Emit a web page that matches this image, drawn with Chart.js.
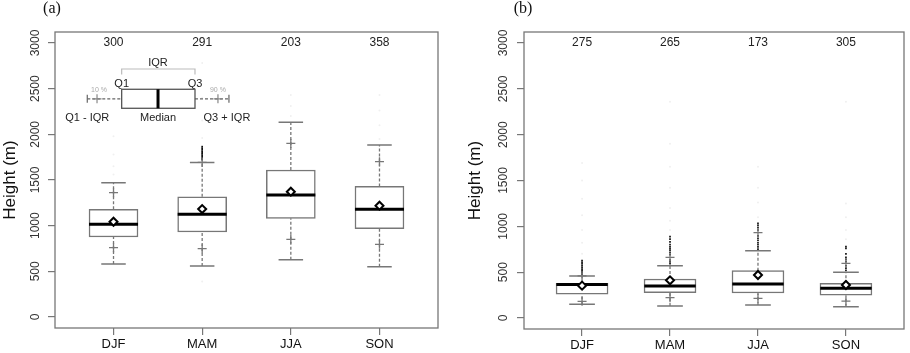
<!DOCTYPE html>
<html><head><meta charset="utf-8">
<script src="https://cdn.jsdelivr.net/npm/chart.js@4"></script>
<style>
html,body{margin:0;padding:0;background:#fff;width:910px;height:353px;overflow:hidden}
.p{position:absolute;top:0;width:455px;height:353px}
canvas{display:block}
</style></head><body>
<div class="p" style="left:0"><canvas id="ca" width="455" height="353"></canvas></div>
<div class="p" style="left:455px"><canvas id="cb" width="455" height="353"></canvas></div>
<script>
const seasons = ['DJF', 'MAM', 'JJA', 'SON'];
const yTicks = [0, 500, 1000, 1500, 2000, 2500, 3000];

// Panel (a)
const aCounts = [300, 291, 203, 358];
const aLowWhisker = [580, 558, 627, 551];
const aP10 = [759, 748, 851, 796];
const aQ1 = [876, 931, 1080, 967];
const aMedian = [1015, 1124, 1336, 1179];
const aMean = [1043, 1182, 1372, 1219];
const aQ3 = [1179, 1317, 1609, 1430];
const aP90 = [1361, 1692, 1900, 1701];
const aUpWhisker = [1470, 1692, 2132, 1883];
const aOutliers = [[], [1722, 1738, 1755, 1770, 1786, 1800, 1815, 1832, 1848, 1865], [], []];
const aFaint = [[1560, 1650, 1780, 1980], [390, 1960, 2150, 2400, 2780], [2200, 2310, 2430], [1950, 2100, 2260, 2430]];

// Panel (b)
const bCounts = [275, 265, 173, 305];
const bLowWhisker = [149, 131, 142, 124];
const bP10 = [182, 222, 215, 185];
const bQ1 = [259, 276, 273, 248];
const bMedian = [365, 349, 371, 324];
const bMean = [353, 411, 469, 360];
const bQ3 = [378, 425, 516, 378];
const bP90 = [460, 662, 931, 597];
const bUpWhisker = [458, 571, 734, 498];
const bOutliers = [
  [478, 497, 515, 534, 552, 570, 590, 608, 625],
  [592, 612, 633, 690, 712, 735, 755, 775, 800, 830, 860, 887],
  [752, 775, 800, 822, 848, 870, 895, 960, 985, 1010, 1033],
  [520, 545, 570, 615, 640, 662, 700, 760, 778]
];
const bFaint = [[700, 820, 960, 1120, 1300, 1500, 1690], [960, 1060, 1200, 1420, 1650, 1900, 2360], [1100, 1260, 1420, 1650], [860, 960, 1100, 1250, 2360]];

const FONT = "'Liberation Sans', Arial, Helvetica, sans-serif";

function panelPlugin(cfg, counts) {
  return {
    id: 'panelExtras' + cfg.tag,
    beforeDatasetsDraw(chart) {
      const a = chart.chartArea, ctx = chart.ctx;
      ctx.save();
      ctx.strokeStyle = '#777';
      ctx.lineWidth = 1.3;
      ctx.strokeRect(a.left, a.top, a.right - a.left, a.bottom - a.top);
      ctx.restore();
    },
    afterDraw(chart) {
      const ctx = chart.ctx, xs = chart.scales.x, ys = chart.scales.y;
      ctx.save();
      ctx.fillStyle = '#111';
      ctx.font = "16px 'Liberation Serif', 'Times New Roman', serif";
      ctx.textAlign = 'center';
      ctx.textBaseline = 'middle';
      ctx.fillText(cfg.tag, cfg.tagX, 9);
      ctx.font = '12px ' + FONT;
      ctx.fillStyle = '#222';
      counts.forEach((c, i) => ctx.fillText(String(c), xs.getPixelForValue(i + 1), ys.getPixelForValue(3000)));
      if (cfg.inset) drawInset(ctx, xs, ys);
      ctx.restore();
    }
  };
}

const key = {boxL: 1.092, boxR: 1.919, boxLo: 2285, boxHi: 2493, mid: 2389, med: 1.502,
  endL: 0.704, endR: 2.302, p10: 0.814, p90: 2.178, iqrY: 2715, iqrTick: 2655,
  qLab: 2551, pLab: 2485, lowLab: 2180, iqrLab: 2785};

function drawInset(ctx, xs, ys) {
  const X = v => xs.getPixelForValue(v), Y = v => ys.getPixelForValue(v);
  ctx.strokeStyle = '#bbb'; ctx.lineWidth = 1.2; ctx.setLineDash([]);
  ctx.beginPath();
  ctx.moveTo(X(key.boxL), Y(key.iqrTick)); ctx.lineTo(X(key.boxL), Y(key.iqrY));
  ctx.lineTo(X(key.boxR), Y(key.iqrY)); ctx.lineTo(X(key.boxR), Y(key.iqrTick));
  ctx.stroke();
  ctx.strokeStyle = '#666'; ctx.lineWidth = 1.2; ctx.setLineDash([3, 2]);
  ctx.beginPath();
  ctx.moveTo(X(key.endL), Y(key.mid)); ctx.lineTo(X(key.boxL), Y(key.mid));
  ctx.moveTo(X(key.boxR), Y(key.mid)); ctx.lineTo(X(key.endR), Y(key.mid));
  ctx.stroke();
  ctx.setLineDash([]);
  ctx.beginPath();
  [key.endL, key.endR].forEach(x => { ctx.moveTo(X(x), Y(key.mid) - 4); ctx.lineTo(X(x), Y(key.mid) + 4); });
  ctx.stroke();
  ctx.strokeStyle = '#888';
  ctx.beginPath();
  [key.p10, key.p90].forEach(x => {
    ctx.moveTo(X(x) - 4.5, Y(key.mid)); ctx.lineTo(X(x) + 4.5, Y(key.mid));
    ctx.moveTo(X(x), Y(key.mid) - 4.5); ctx.lineTo(X(x), Y(key.mid) + 4.5);
  });
  ctx.stroke();
  ctx.fillStyle = '#fff'; ctx.strokeStyle = '#555'; ctx.lineWidth = 1.3;
  ctx.fillRect(X(key.boxL), Y(key.boxHi), X(key.boxR) - X(key.boxL), Y(key.boxLo) - Y(key.boxHi));
  ctx.strokeRect(X(key.boxL), Y(key.boxHi), X(key.boxR) - X(key.boxL), Y(key.boxLo) - Y(key.boxHi));
  ctx.strokeStyle = '#000'; ctx.lineWidth = 3;
  ctx.beginPath(); ctx.moveTo(X(key.med), Y(key.boxHi)); ctx.lineTo(X(key.med), Y(key.boxLo)); ctx.stroke();
  ctx.textAlign = 'center'; ctx.textBaseline = 'middle';
  ctx.fillStyle = '#222'; ctx.font = '11px ' + FONT;
  ctx.fillText('IQR', X(key.med), Y(key.iqrLab));
  ctx.fillText('Q1', X(key.boxL), Y(key.qLab));
  ctx.fillText('Q3', X(key.boxR), Y(key.qLab));
  ctx.fillText('Q1 - IQR', X(key.endL), Y(key.lowLab));
  ctx.fillText('Median', X(key.med), Y(key.lowLab));
  ctx.fillText('Q3 + IQR', X(key.endR) - 2, Y(key.lowLab));
  ctx.fillStyle = '#aaa'; ctx.font = '7px ' + FONT;
  ctx.fillText('10 %', X(key.p10) + 2, Y(key.pLab));
  ctx.fillText('90 %', X(key.p90), Y(key.pLab));
}

function makePanel(id, d, cfg) {
  const halfBox = cfg.boxW / 2, halfCap = cfg.boxW / 4;
  const whisk = [], caps = [], meds = [], crosses = [], means = [], outs = [], faint = [];
  d.q1.forEach((_, i) => {
    const x = i + 1;
    whisk.push({x, y: d.lw[i]}, {x, y: d.q1[i]}, {x, y: null}, {x, y: d.q3[i]}, {x, y: d.uw[i]}, {x, y: null});
    caps.push({x: x - halfCap, y: d.lw[i]}, {x: x + halfCap, y: d.lw[i]}, {x, y: null},
              {x: x - halfCap, y: d.uw[i]}, {x: x + halfCap, y: d.uw[i]}, {x, y: null});
    meds.push({x: x - halfBox, y: d.med[i]}, {x: x + halfBox, y: d.med[i]}, {x, y: null});
    crosses.push({x, y: d.p10[i]}, {x, y: d.p90[i]});
    means.push({x, y: d.mean[i]});
    d.out[i].forEach(v => outs.push({x, y: v}));
    d.faint[i].forEach(v => faint.push({x, y: v}));
  });
  const pt = {pointRadius: 0, pointHoverRadius: 0, fill: false, spanGaps: false, tension: 0};
  new Chart(document.getElementById(id), {
    type: 'scatter',
    data: {datasets: [
      {type: 'scatter', data: means, order: 0, pointStyle: 'rectRot', pointRadius: 4, pointBorderWidth: 2,
       borderColor: '#000', backgroundColor: '#fff', pointBorderColor: '#000', pointBackgroundColor: '#fff'},
      Object.assign({type: 'line', data: meds, order: 1, borderColor: '#000', borderWidth: 3, borderCapStyle: 'butt'}, pt),
      {type: 'scatter', data: crosses, order: 2, pointStyle: 'cross', pointRadius: 4.5, pointBorderWidth: 1.3,
       borderColor: '#777', pointBorderColor: '#777'},
      {type: 'bar', data: d.q1.map((q, i) => ({x: i + 1, y: [q, d.q3[i]]})), order: 3, barThickness: cfg.boxPx,
       backgroundColor: '#fff', borderColor: '#777', borderWidth: 1.5, borderSkipped: false, grouped: false},
      Object.assign({type: 'line', data: caps, order: 4, borderColor: '#777', borderWidth: 1.5}, pt),
      Object.assign({type: 'line', data: whisk, order: 5, borderColor: '#777', borderWidth: 1.3, borderDash: [3, 2]}, pt),
      {type: 'scatter', data: outs, order: 6, pointStyle: 'rect', pointRadius: 1.2, pointBorderWidth: 0,
       backgroundColor: '#111', pointBackgroundColor: '#111'},
      {type: 'scatter', data: faint, order: 7, pointStyle: 'circle', pointRadius: 1, pointBorderWidth: 0,
       backgroundColor: '#f0f0f0', pointBackgroundColor: '#f0f0f0'}
    ]},
    options: {
      responsive: false, animation: false, devicePixelRatio: 1,
      layout: {padding: {top: 32, right: cfg.rightPad, bottom: 0, left: 0}},
      plugins: {legend: {display: false}, tooltip: {enabled: false}, title: {display: false}},
      events: [],
      scales: {
        x: {
          type: 'linear', min: 0.34, max: 4.66, offset: false,
          afterBuildTicks: s => { s.ticks = seasons.map((_, i) => ({value: i + 1})); },
          afterFit: s => { s.height = cfg.xH; },
          grid: {drawOnChartArea: false, drawTicks: true, tickLength: 7, color: '#777', lineWidth: 1.2, offset: false},
          border: {display: false},
          ticks: {autoSkip: false, maxRotation: 0, minRotation: 0, padding: 2, color: '#111',
                  font: {family: FONT, size: 13}, callback: v => seasons[Math.round(v) - 1]}
        },
        y: {
          type: 'linear', min: -120, max: 3120,
          afterBuildTicks: s => { s.ticks = yTicks.map(v => ({value: v})); },
          afterFit: s => { s.width = cfg.yW; },
          grid: {drawOnChartArea: false, drawTicks: true, tickLength: 7, color: '#777', lineWidth: 1.2},
          border: {display: false},
          ticks: {minRotation: 90, maxRotation: 90, crossAlign: 'center', padding: cfg.tickPad, color: '#333',
                  font: {family: FONT, size: 12}, callback: v => String(v)},
          title: {display: true, text: 'Height (m)', color: '#111', font: {family: FONT, size: 17},
                  padding: {top: cfg.titlePad, bottom: 0}}
        }
      }
    },
    plugins: [panelPlugin(cfg, d.counts)]
  });
}

makePanel('ca', {counts: aCounts, lw: aLowWhisker, p10: aP10, q1: aQ1, med: aMedian, mean: aMean, q3: aQ3,
  p90: aP90, uw: aUpWhisker, out: aOutliers, faint: aFaint},
  {tag: '(a)', tagX: 52, inset: true, boxW: 0.553, boxPx: 49, rightPad: 17, yW: 55, xH: 25, tickPad: -1, titlePad: 0});
makePanel('cb', {counts: bCounts, lw: bLowWhisker, p10: bP10, q1: bQ1, med: bMedian, mean: bMean, q3: bQ3,
  p90: bP90, uw: bUpWhisker, out: bOutliers, faint: bFaint},
  {tag: '(b)', tagX: 68, inset: false, boxW: 0.584, boxPx: 52, rightPad: 1, yW: 69, xH: 24, tickPad: 0, titlePad: 10});
</script>
</body></html>
